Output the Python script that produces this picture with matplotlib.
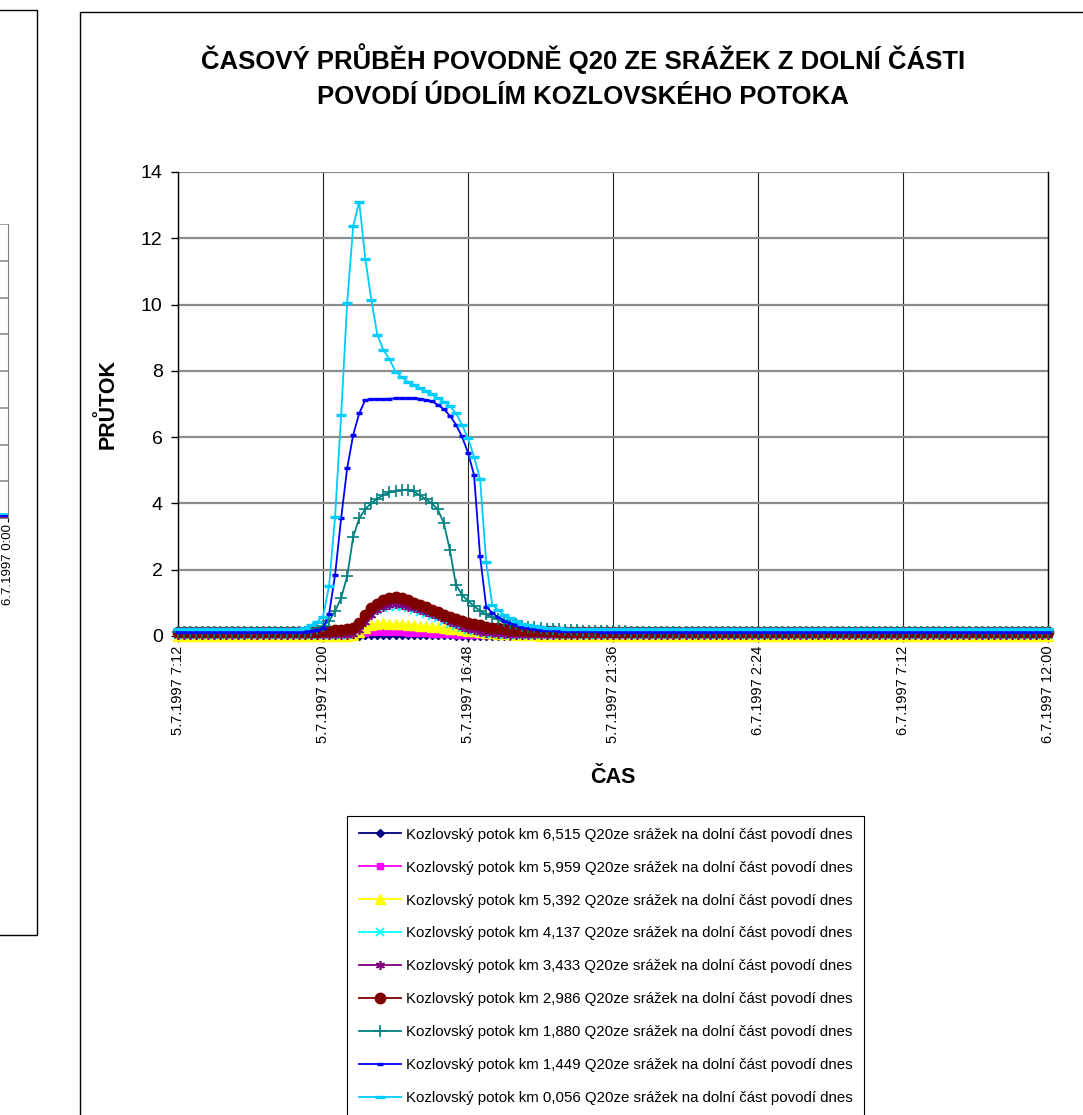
import matplotlib
matplotlib.use('Agg')
import matplotlib.pyplot as plt
from matplotlib.patches import Rectangle
from matplotlib import font_manager
import pandas as pd

W, H = 1083, 1115

# ---------------- data ----------------
t_start = pd.Timestamp('1997-07-05 07:12')
n_points = 145           # 12-minute steps up to 6.7.1997 12:00
step = '12min'
EVENT_FROM = 20          # index of the first value in every *_event list

labels = [
    'Kozlovský potok km 6,515 Q20ze srážek na dolní část povodí dnes',
    'Kozlovský potok km 5,959 Q20ze srážek na dolní část povodí dnes',
    'Kozlovský potok km 5,392 Q20ze srážek na dolní část povodí dnes',
    'Kozlovský potok km 4,137 Q20ze srážek na dolní část povodí dnes',
    'Kozlovský potok km 3,433 Q20ze srážek na dolní část povodí dnes',
    'Kozlovský potok km 2,986 Q20ze srážek na dolní část povodí dnes',
    'Kozlovský potok km 1,880 Q20ze srážek na dolní část povodí dnes',
    'Kozlovský potok km 1,449 Q20ze srážek na dolní část povodí dnes',
    'Kozlovský potok km 0,056 Q20ze srážek na dolní část povodí dnes',
]

# baseline before / after the event, event values (index 20..79)
km6515_base = (0.0, 0.0)
km6515_event = [0.0] * 10 + [
    0.01, 0.02, 0.03, 0.04, 0.04, 0.04, 0.04, 0.04, 0.03, 0.03,
    0.03, 0.03, 0.02, 0.02, 0.02, 0.02, 0.01, 0.01, 0.01, 0.01] + [0.0] * 30

km5959_base = (0.01, 0.01)
km5959_event = [0.01] * 9 + [0.02,
    0.05, 0.09, 0.12, 0.13, 0.13, 0.12, 0.12, 0.11, 0.10, 0.09,
    0.08, 0.08, 0.07, 0.06, 0.05, 0.05, 0.04, 0.03, 0.03, 0.02] + [0.02] * 5 + [0.01] * 25

km5392_base = (0.01, 0.01)
km5392_event = [0.01] * 9 + [0.04,
    0.12, 0.25, 0.33, 0.37, 0.38, 0.37, 0.36, 0.35, 0.33, 0.32,
    0.30, 0.29, 0.27, 0.26, 0.24, 0.22, 0.20, 0.18, 0.16, 0.14,
    0.12, 0.10, 0.08, 0.07, 0.06, 0.05, 0.04, 0.03, 0.02, 0.02] + [0.01] * 20

km4137_base = (0.02, 0.02)
km4137_event = [0.02] * 8 + [0.04, 0.12,
    0.36, 0.55, 0.68, 0.78, 0.84, 0.88, 0.89, 0.87, 0.83, 0.78,
    0.72, 0.66, 0.60, 0.53, 0.45, 0.37, 0.30, 0.23, 0.18, 0.14,
    0.11, 0.08, 0.06, 0.05, 0.04, 0.03, 0.03, 0.02, 0.02, 0.02] + [0.02] * 20

km3433_base = (0.02, 0.02)
km3433_event = [0.02] * 8 + [0.03, 0.06,
    0.18, 0.42, 0.63, 0.78, 0.88, 0.94, 0.96, 0.94, 0.89, 0.83,
    0.77, 0.72, 0.67, 0.59, 0.51, 0.43, 0.35, 0.28, 0.22, 0.17,
    0.13, 0.10, 0.08, 0.06, 0.05, 0.04, 0.03, 0.03, 0.02, 0.02] + [0.02] * 20

km2986_base = (0.12, 0.12)
km2986_event = [
    0.12, 0.12, 0.13, 0.13, 0.14, 0.15, 0.17, 0.19, 0.21, 0.24,
    0.39, 0.63, 0.83, 0.98, 1.08, 1.14, 1.17, 1.14, 1.08, 1.01,
    0.94, 0.87, 0.79, 0.71, 0.64, 0.58, 0.52, 0.46, 0.40, 0.35,
    0.32, 0.28, 0.25, 0.23, 0.21, 0.19, 0.18, 0.17, 0.16, 0.15,
    0.15, 0.14, 0.14, 0.13, 0.13, 0.13, 0.12, 0.12, 0.12, 0.12] + [0.12] * 10

km1880_base = (0.12, 0.12)
km1880_event = [
    0.12, 0.13, 0.15, 0.20, 0.30, 0.45, 0.75, 1.15, 1.80, 3.00,
    3.55, 3.83, 4.01, 4.14, 4.26, 4.33, 4.37, 4.40, 4.42, 4.36,
    4.25, 4.13, 4.00, 3.82, 3.40, 2.60, 1.55, 1.24, 1.06, 0.90,
    0.76, 0.65, 0.57, 0.50, 0.44, 0.39, 0.35, 0.31, 0.28, 0.26,
    0.24, 0.22, 0.21, 0.20, 0.19, 0.18, 0.17, 0.16, 0.15, 0.15,
    0.14, 0.14, 0.14, 0.14, 0.14, 0.13, 0.13, 0.13, 0.13, 0.13]

km1449_base = (0.12, 0.12)
km1449_event = [
    0.12, 0.13, 0.15, 0.18, 0.23, 0.66, 1.84, 3.55, 5.06, 6.07,
    6.72, 7.12, 7.15, 7.14, 7.15, 7.16, 7.17, 7.17, 7.17, 7.17,
    7.16, 7.13, 7.08, 6.98, 6.84, 6.65, 6.38, 6.02, 5.53, 4.86,
    2.41, 0.89, 0.70, 0.56, 0.46, 0.38, 0.32, 0.27, 0.24, 0.21,
    0.19, 0.18, 0.17, 0.16, 0.16, 0.15, 0.15, 0.14, 0.14, 0.14,
    0.13, 0.13, 0.13, 0.12, 0.12, 0.12, 0.12, 0.12, 0.12, 0.12]

km0056_base = (0.20, 0.20)
km0056_event = [
    0.22, 0.25, 0.33, 0.43, 0.58, 1.51, 3.60, 6.66, 10.04, 12.38,
    13.10, 11.38, 10.14, 9.08, 8.63, 8.35, 7.98, 7.81, 7.67, 7.57,
    7.48, 7.38, 7.29, 7.18, 7.07, 6.94, 6.72, 6.38, 5.96, 5.41,
    4.74, 2.24, 0.95, 0.78, 0.64, 0.53, 0.44, 0.37, 0.32, 0.29,
    0.27, 0.25, 0.24, 0.23, 0.22, 0.22, 0.21, 0.21, 0.20, 0.20] + [0.20] * 10

x_ticklabels = ['5.7.1997 7:12', '5.7.1997 12:00', '5.7.1997 16:48', '5.7.1997 21:36',
                '6.7.1997 2:24', '6.7.1997 7:12', '6.7.1997 12:00']
y_ticks = [0, 2, 4, 6, 8, 10, 12, 14]

# ---------------- helpers ----------------
times = pd.date_range(t_start, periods=n_points, freq=step)


def full(base, event):
    before, after = base
    n_after = n_points - EVENT_FROM - len(event)
    return [before] * EVENT_FROM + list(event) + [after] * n_after


series = [
    (full(km6515_base, km6515_event), dict(color='#000080', marker='D', ms=4.5)),
    (full(km5959_base, km5959_event), dict(color='#FF00FF', marker='s', ms=5)),
    (full(km5392_base, km5392_event), dict(color='#FFFF00', marker='^', ms=6.5)),
    (full(km4137_base, km4137_event), dict(color='#00FFFF', marker='x', ms=5.5, mew=1.2)),
    (full(km3433_base, km3433_event), dict(color='#800080', marker=(6, 2, 0), ms=6.5, mew=1.2)),
    (full(km2986_base, km2986_event), dict(color='#800000', marker='o', ms=7.5)),
    (full(km1880_base, km1880_event), dict(color='#008080', marker='+', ms=8, mew=1.2)),
    (full(km1449_base, km1449_event), dict(color='#0000FF', marker='_', ms=4.5, mew=2.4)),
    (full(km0056_base, km0056_event), dict(color='#00CCFF', marker='_', ms=7.5, mew=2.4)),
]

names = {f.name for f in font_manager.fontManager.ttflist}
if 'Liberation Sans Narrow' in names:
    leg_family, leg_size = 'Liberation Sans Narrow', 13
else:
    leg_family, leg_size = 'Liberation Sans', 10.8
plt.rcParams['font.family'] = ['Liberation Sans', 'DejaVu Sans']

fig = plt.figure(figsize=(W / 100, H / 100), dpi=100)
fig.patch.set_facecolor('white')


def fx(px):
    return px / W


def fy(py):
    return 1 - py / H


# frames of the two chart objects
fig.patches.append(Rectangle((fx(-20), fy(935)), fx(57), (935 - 10) / H, transform=fig.transFigure,
                             fill=False, edgecolor='black', lw=1.0))
fig.patches.append(Rectangle((fx(80), fy(1130)), fx(1040), (1130 - 12) / H, transform=fig.transFigure,
                             fill=False, edgecolor='black', lw=1.0))

# ---------------- partial chart at the left ----------------
axl = fig.add_axes([fx(-60), fy(518), fx(68), (518 - 224) / H])
axl.set_xlim(0, 1)
axl.set_ylim(0, 16)
axl.set_yticks(range(0, 17, 2))
axl.yaxis.grid(True, color='#8c8c8c', lw=1.2)
axl.tick_params(axis='y', length=0, labelleft=False)
axl.set_xticks([1])
axl.set_xticklabels(['6.7.1997 0:00'], rotation=90, fontsize=9.5)
axl.tick_params(axis='x', length=3, pad=1)
for s in ['left', 'top']:
    axl.spines[s].set_visible(False)
axl.spines['right'].set_color('#808080')
axl.spines['bottom'].set_color('#808080')
for vals, st in series:
    axl.plot([0.9, 1.0], [vals[-1], vals[-1]], color=st['color'], lw=1.3, clip_on=False)

# ---------------- main chart ----------------
ax = fig.add_axes([fx(178), fy(636), fx(1048 - 178), (636 - 172) / H])
for vals, st in series:
    ax.plot(times, vals, lw=1.3, color=st['color'], marker=st['marker'], ms=st['ms'],
            mew=st.get('mew', 1.0), mfc=st['color'], mec=st['color'], zorder=3, clip_on=False)

t_end = times[-1]
ax.set_xlim(times[0], t_end)
ax.set_ylim(0, 14)
ax.set_yticks(y_ticks)
tick_pos = pd.date_range(times[0], t_end, periods=len(x_ticklabels))
ax.set_xticks(tick_pos)
ax.set_xticklabels(x_ticklabels, rotation=90, fontsize=10.5)
ax.tick_params(axis='y', labelsize=14, length=5, width=1, pad=6, direction='out')
ax.tick_params(axis='x', length=4, width=1, pad=3, direction='out')
ax.yaxis.grid(True, color='#8c8c8c', lw=1.6, zorder=0)
ax.xaxis.grid(True, color='#222222', lw=0.8, zorder=0)
ax.set_axisbelow(True)
ax.spines['top'].set_visible(False)
for s in ['left', 'bottom', 'right']:
    ax.spines[s].set_color('black')
    ax.spines[s].set_linewidth(1.0)

ax.set_ylabel('PRŮTOK', fontsize=15.5, fontweight='bold', labelpad=16)
ax.set_xlabel('ČAS', fontsize=15.5, fontweight='bold', labelpad=17)

fig.text(fx(583), fy(76), 'ČASOVÝ PRŮBĚH POVODNĚ Q20 ZE SRÁŽEK Z DOLNÍ ČÁSTI\nPOVODÍ ÚDOLÍM KOZLOVSKÉHO POTOKA',
         ha='center', va='center', fontsize=18.5, fontweight='bold', linespacing=1.6)

handles = ax.get_lines()
leg = fig.legend(handles, labels, loc='upper left', bbox_to_anchor=(fx(347), fy(816)),
                 bbox_transform=fig.transFigure, frameon=True, fancybox=False, framealpha=1,
                 edgecolor='black', borderaxespad=0, numpoints=1, handlelength=2.8,
                 handletextpad=0.35, labelspacing=1.26, borderpad=0.78,
                 prop={'family': leg_family, 'size': leg_size})
leg.get_frame().set_linewidth(0.8)

fig.savefig('out.png', dpi=100, facecolor='white')
